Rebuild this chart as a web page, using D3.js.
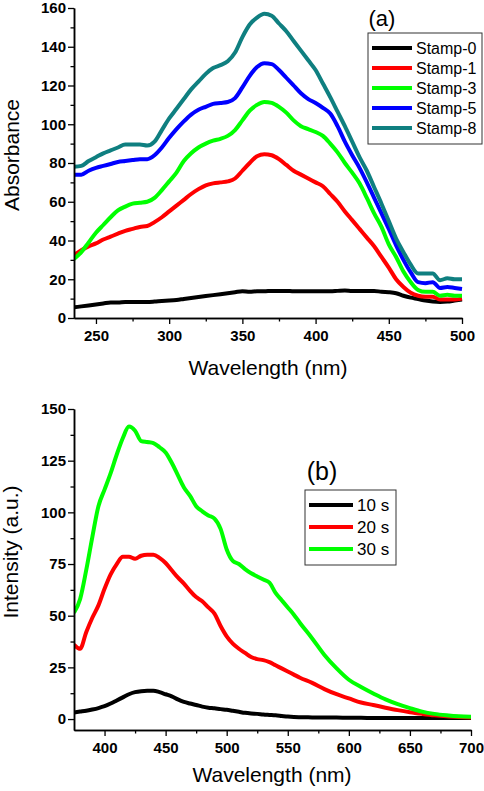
<!DOCTYPE html>
<html>
<head>
<meta charset="utf-8">
<script src="https://cdn.jsdelivr.net/npm/d3@7"></script>
<style>
  html, body { margin: 0; padding: 0; background: #fff; }
  svg { display: block; font-family: "Liberation Sans", Arial, Helvetica, sans-serif; }
</style>
</head>
<body>
<svg id="chart" width="484" height="791"></svg>
<script>
// ---------- Panel (a): absorbance ----------
const wlA = [235,240,245,250,255,260,265,270,275,280,285,290,295,300,305,310,315,320,325,330,335,340,345,350,355,360,365,370,375,380,385,390,395,400,405,410,415,420,425,430,435,440,445,450,455,460,465,470,475,480,485,490,495,500];
const stamp0 = [5.5,6,6.5,7,7.5,8,8,8.3,8.3,8.3,8.3,8.5,8.8,9,9.3,9.8,10.3,10.8,11.3,11.8,12.3,12.8,13.3,13.8,13.5,13.8,13.8,14,14,14,13.8,13.8,13.8,13.8,13.8,13.8,14,14.2,14,14,14,14,13.5,13.3,12.8,11.5,10.5,9.8,9,8.5,8.3,8.5,9,9.5];
const stamp1 = [32.5,35,37,38.5,40.5,42,43.5,45,46,47,47.5,49.5,52,55,58,61,64,66.5,68.5,69.5,70,70.5,72,76,80,83.5,84.5,84,82,79,76,74,72,70,68,64,60,55,50.5,46,41.5,37,31.5,26,20,16,13,11.5,11,11,9.5,9.5,9.5,10];
const stamp3 = [30.5,34,39,44,48,52,55.5,57.5,59,59.5,60,62,66,70.5,75,81,85,88,90,91.5,92.5,94,97,102,107,110,111.5,111,109,106,102,99,97.5,96,94,90,85.5,80,75,69.5,62,54,47,38,31.5,24,18.5,14.5,13.5,13.5,11.5,12,11.5,11.5];
const stamp5 = [74,74,76,77.5,78.5,79.5,80.5,81,81.5,82,82,84,88,93,97.5,101.5,105,107.5,109,110.5,111,111.5,113.5,119,125,129.5,131.5,131,128,124,120,116,113,111,108.5,105.5,99,91,84,77.5,70,62,54,46,37.5,30,23.5,18.5,18,18.5,15.5,16,15.5,15];
const stamp8 = [78,78.5,81,83,85,86.5,88,89.5,89.5,89.5,89,91,97,103,108,113,118,122,126,129,130.5,132.5,137,145,151.5,155,157,156,152,148,143,138,133,128,121,114,106.5,99,91,83,76,67.5,59,50,41,34,27.5,23,23,23,19.5,20.5,20,20];
const namesA = ["Stamp-0","Stamp-1","Stamp-3","Stamp-5","Stamp-8"];
const colorsA = ["#000000","#ff0000","#00ff00","#0000ff","#0f7f80"];
const xTicksA = [250,300,350,400,450,500];
const yTicksA = [0,20,40,60,80,100,120,140,160];

// ---------- Panel (b): intensity ----------
const wlB = [375,380,385,390,395,400,405,410,415,420,425,430,435,440,445,450,455,460,465,470,475,480,485,490,495,500,505,510,515,520,525,530,535,540,545,550,555,560,570,580,590,600,610,620,630,640,650,660,670,680,690,700];
const s10 = [3.2,3.6,4,4.6,5.3,6.2,7.5,9,10.5,12,13,13.5,13.7,13.7,13,12,11,9.5,8.3,7.5,6.8,6,5.5,5.2,4.8,4.5,4,3.5,3,2.7,2.5,2.2,2,1.8,1.5,1.2,1,0.9,0.8,0.7,0.7,0.6,0.6,0.5,0.5,0.5,0.5,0.5,0.5,0.5,0.5,0.5];
const s20 = [36,34,42,49,55,63,70,75,78.5,78.5,77.5,79,79.5,79.5,78,75.5,72,68.5,65.5,62,59,57,54,51,45,40,36.5,34,32,30,29,28.5,27.5,26,24.5,23,21.5,20,17.5,14.5,12,10,8,6.8,5.5,4.3,3.3,2.5,1.8,1.3,1,0.8];
const s30 = [51.5,58,72,88,103,111,119,128,136,141.5,139.5,134.5,134,133.5,131.5,129,124,118,112,108,103,100.5,98.5,97,92,82,76.5,75,72.5,70.5,69,67.5,66,61,57.5,54,50.5,46.5,39,31,24.5,19,15.5,12.4,9.5,7.2,5.3,3.6,2.5,1.8,1.3,1.1];
const namesB = ["10 s","20 s","30 s"];
const colorsB = ["#000000","#ff0000","#00ff00"];
const xTicksB = [400,450,500,550,600,650,700];
const yTicksB = [0,25,50,75,100,125,150];

const svg = d3.select("#chart");
const FONT = '"Liberation Sans", Arial, Helvetica, sans-serif';

function drawPanel(o) {
  const x = d3.scaleLinear().domain(o.xDomain).range([o.left, o.right]);
  const y = d3.scaleLinear().domain(o.yDomain).range([o.bottom, o.top]);
  const g = svg.append("g");

  const clipId = "clip" + o.id;
  svg.append("clipPath").attr("id", clipId).append("rect")
    .attr("x", o.left).attr("y", o.top - 4).attr("width", o.right - o.left + 4).attr("height", o.bottom - o.top + 4);

  // series
  const line = d3.line().x((d, i) => x(o.wl[i])).y(d => y(d)).curve(d3.curveMonotoneX);
  o.series.forEach((s, k) => {
    g.append("path").attr("d", line(s))
      .attr("fill", "none").attr("stroke", o.colors[k]).attr("stroke-width", 4)
      .attr("stroke-linejoin", "round").attr("stroke-linecap", "butt")
      .attr("clip-path", `url(#${clipId})`);
  });

  // minor ticks
  const xMinor = d3.axisBottom(x).tickValues(o.xMinor).tickSize(3.5).tickSizeOuter(0).tickFormat("");
  const yMinor = d3.axisLeft(y).tickValues(o.yMinor).tickSize(3.5).tickSizeOuter(0).tickFormat("");
  g.append("g").attr("transform", `translate(0,${o.bottom})`).call(xMinor);
  g.append("g").attr("transform", `translate(${o.left},0)`).call(yMinor);

  // major axes
  const xAxis = d3.axisBottom(x).tickValues(o.xTicks).tickSize(6).tickSizeOuter(0).tickPadding(6);
  const yAxis = d3.axisLeft(y).tickValues(o.yTicks).tickSize(6).tickSizeOuter(0).tickPadding(2);
  const gx = g.append("g").attr("transform", `translate(0,${o.bottom})`).call(xAxis);
  const gy = g.append("g").attr("transform", `translate(${o.left},0)`).call(yAxis);

  g.selectAll(".domain").attr("stroke", "#000").attr("stroke-width", 1.5);
  g.selectAll(".tick line").attr("stroke", "#000").attr("stroke-width", 1.3);
  [gx, gy].forEach(a => a.selectAll("text")
    .attr("font-family", FONT).attr("font-size", 15).attr("font-weight", "bold").attr("fill", "#000"));

  // axis titles
  g.append("text").attr("x", o.xTitlePos[0]).attr("y", o.xTitlePos[1])
    .attr("text-anchor", "middle").attr("font-family", FONT).attr("font-size", 21)
    .text("Wavelength (nm)");
  g.append("text").attr("transform", `translate(${o.yTitlePos[0]},${o.yTitlePos[1]}) rotate(-90)`)
    .attr("text-anchor", "middle").attr("font-family", FONT).attr("font-size", 21)
    .text(o.yTitle);

  // panel label
  g.append("text").attr("x", o.tagPos[0]).attr("y", o.tagPos[1])
    .attr("text-anchor", "middle").attr("font-family", FONT).attr("font-size", o.tagSize)
    .text(o.tag);

  // legend
  const L = o.legend;
  g.append("rect").attr("x", L.x).attr("y", L.y).attr("width", L.w).attr("height", L.h)
    .attr("fill", "#fff").attr("stroke", "#333").attr("stroke-width", 1);
  o.names.forEach((n, k) => {
    const yy = L.y0 + k * L.dy;
    g.append("line").attr("x1", L.lx1).attr("x2", L.lx2).attr("y1", yy).attr("y2", yy)
      .attr("stroke", o.colors[k]).attr("stroke-width", 4);
    g.append("text").attr("x", L.tx).attr("y", yy + L.fs * 0.36)
      .attr("font-family", FONT).attr("font-size", L.fs).text(n);
  });
}

function range(a, b, s) { return d3.range(a, b + s / 2, s); }

drawPanel({
  id: "a", wl: wlA, series: [stamp0, stamp1, stamp3, stamp5, stamp8], colors: colorsA, names: namesA,
  xDomain: [235, 500], yDomain: [0, 160], left: 74, right: 462, top: 8, bottom: 318,
  xTicks: xTicksA, yTicks: yTicksA,
  xMinor: range(250, 500, 25).filter(v => v % 50 !== 0), yMinor: range(10, 150, 20),
  xTitlePos: [268, 375], yTitlePos: [19, 155], yTitle: "Absorbance",
  tag: "(a)", tagPos: [382, 26], tagSize: 22,
  legend: { x: 368, y: 33, w: 114, h: 111, y0: 48, dy: 20, lx1: 372, lx2: 412, tx: 416, fs: 16 }
});

drawPanel({
  id: "b", wl: wlB, series: [s10, s20, s30], colors: colorsB, names: namesB,
  xDomain: [375, 700], yDomain: [-5.3, 150], left: 74, right: 471, top: 409, bottom: 730,
  xTicks: xTicksB, yTicks: yTicksB,
  xMinor: range(425, 675, 50), yMinor: range(12.5, 137.5, 25),
  xTitlePos: [272, 782], yTitlePos: [18, 552], yTitle: "Intensity (a.u.)",
  tag: "(b)", tagPos: [322, 480], tagSize: 25,
  legend: { x: 305, y: 490, w: 91, h: 75, y0: 505, dy: 22, lx1: 309, lx2: 353, tx: 357, fs: 17 }
});
</script>
</body>
</html>
